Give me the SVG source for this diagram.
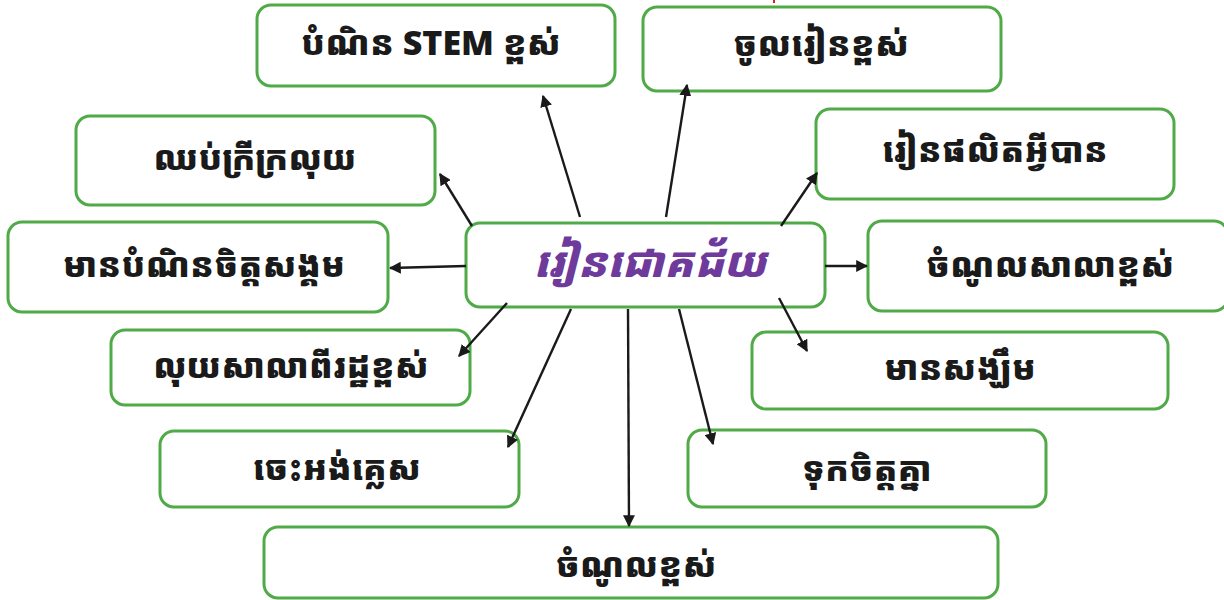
<svg xmlns="http://www.w3.org/2000/svg" width="1224" height="600" viewBox="0 0 1224 600">
<style>
.box{fill:#fff;stroke:#4FAA47;stroke-width:3}
.t{font-family:"Noto Sans Khmer","Khmer OS","Noto Sans","DejaVu Sans",sans-serif;font-weight:900;font-size:34px;fill:#1a1a1a;text-anchor:middle}
.c{font-family:"Noto Sans Khmer","Khmer OS","Noto Sans","DejaVu Sans",sans-serif;font-weight:900;font-style:italic;font-size:42px;fill:#6E3A9B;text-anchor:middle}
.e{stroke:#1a1a1a;stroke-width:2.4;fill:none;marker-end:url(#ah)}
</style>
<defs>
<marker id="ah" viewBox="0 0 10 10" refX="9" refY="5" markerWidth="5" markerHeight="5" markerUnits="strokeWidth" orient="auto">
<path d="M0,0 L10,5 L0,10 z" fill="#1a1a1a"/>
</marker>
</defs>
<rect width="1224" height="600" fill="#fff"/>
<line x1="774" y1="0" x2="774" y2="3" stroke="#E02020" stroke-width="2"/>
<g id="n-stem"><rect class="box" x="257" y="5" width="358" height="81" rx="14"/><text class="t" x="431" y="55">បំណិន STEM ខ្ពស់</text></g>
<g id="n-higher"><rect class="box" x="643" y="7" width="358" height="84" rx="14"/><text class="t" x="821" y="56">ចូលរៀនខ្ពស់</text></g>
<g id="n-poverty"><rect class="box" x="76" y="116" width="359" height="89" rx="14"/><text class="t" x="255" y="170">ឈប់ក្រីក្រលុយ</text></g>
<g id="n-produce"><rect class="box" x="816" y="109" width="358" height="90" rx="14"/><text class="t" x="995" y="162">រៀនផលិតអ្វីបាន</text></g>
<g id="n-social"><rect class="box" x="8" y="222" width="380" height="90" rx="14"/><text class="t" x="204" y="277">មានបំណិនចិត្តសង្គម</text></g>
<g id="n-center"><rect class="box" x="466" y="223" width="359" height="84" rx="14"/><text class="c" x="650" y="277">រៀនជោគជ័យ</text></g>
<g id="n-schoolincome"><rect class="box" x="868" y="221" width="360" height="90" rx="14"/><text class="t" x="1050" y="277">ចំណូលសាលាខ្ពស់</text></g>
<g id="n-stateschool"><rect class="box" x="111" y="330" width="359" height="75" rx="14"/><text class="t" x="291" y="378">លុយសាលាពីរដ្ឋខ្ពស់</text></g>
<g id="n-hope"><rect class="box" x="752" y="332" width="416" height="77" rx="14"/><text class="t" x="960" y="380">មានសង្ឃឹម</text></g>
<g id="n-english"><rect class="box" x="160" y="431" width="359" height="76" rx="14"/><text class="t" x="337" y="480">ចេះអង់គ្លេស</text></g>
<g id="n-trust"><rect class="box" x="688" y="430" width="358" height="77" rx="14"/><text class="t" x="867" y="481">ទុកចិត្តគ្នា</text></g>
<g id="n-income"><rect class="box" x="264" y="527" width="734" height="71" rx="14"/><text class="t" x="636" y="577">ចំណូលខ្ពស់</text></g>
<g id="connectors">
<line class="e" x1="580" y1="217" x2="543" y2="96"/>
<line class="e" x1="666" y1="217" x2="687" y2="85"/>
<line class="e" x1="472" y1="226" x2="440" y2="174"/>
<line class="e" x1="781" y1="226" x2="817" y2="173"/>
<line class="e" x1="466" y1="266" x2="390" y2="268"/>
<line class="e" x1="825" y1="266" x2="867" y2="266"/>
<line class="e" x1="507" y1="303" x2="459" y2="356"/>
<line class="e" x1="571" y1="309" x2="508" y2="447"/>
<line class="e" x1="628" y1="309" x2="629" y2="526"/>
<line class="e" x1="679" y1="309" x2="713" y2="444"/>
<line class="e" x1="779" y1="298" x2="807" y2="351"/>
</g>
</svg>
